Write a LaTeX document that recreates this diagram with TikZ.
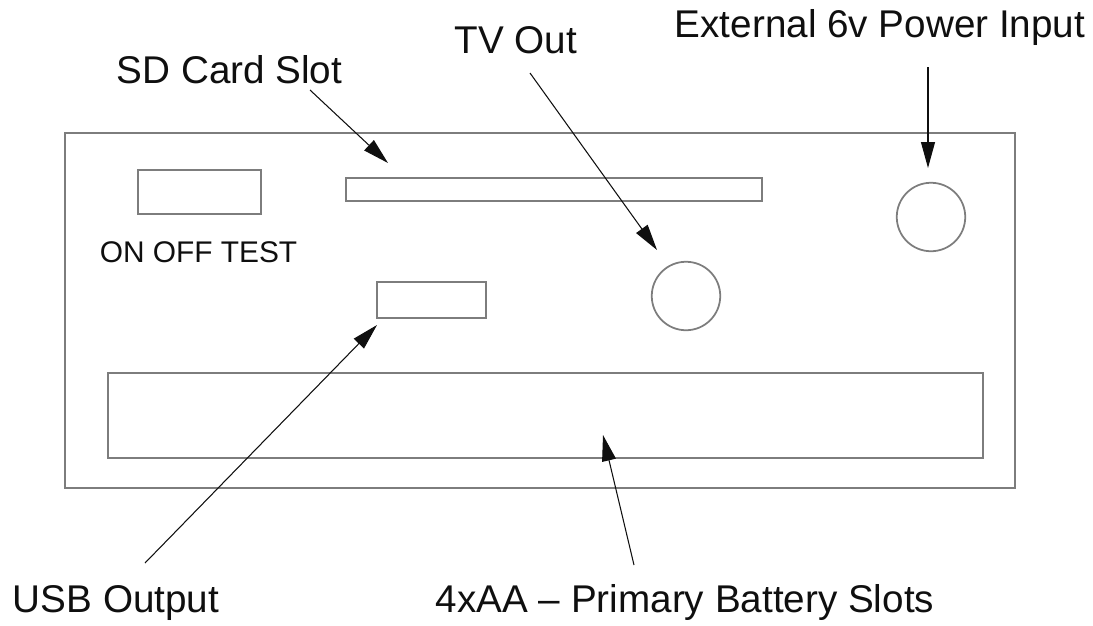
\documentclass[tikz,border=0pt]{standalone}
\usepackage{fontspec}
\setmainfont{Liberation Sans}
\usetikzlibrary{arrows.meta, positioning}
\definecolor{panelGrey}{RGB}{125,125,125}
\definecolor{panelInk}{RGB}{15,15,15}

\begin{document}
\begin{tikzpicture}[x=0.02cm, y=-0.02cm,
    part/.style={draw=panelGrey, line width=1pt, inner sep=0pt},
    callout/.style={font=\fontsize{22}{26}\selectfont, text=panelInk, inner sep=0pt, anchor=base},
    pointer/.style={-{Triangle[length=0.52cm, width=0.28cm]}, line width=0.6pt, draw=panelInk}
  ]
  \useasboundingbox (0,0) rectangle (1093,626);

  % front panel
  \node[part, minimum width=19cm, minimum height=7.1cm] (panel) at (540,310.5) {};
  \node[part, minimum width=2.46cm, minimum height=0.88cm] (switch) at (199.5,192) {};
  \node[callout, font=\fontsize{17}{20}\selectfont] (switchlbl) at (198.5,262) {ON OFF TEST};
  \node[part, minimum width=8.32cm, minimum height=0.46cm] (sdslot) at (554,189.5) {};
  \node[part, minimum width=2.18cm, minimum height=0.72cm] (usb) at (431.5,300) {};
  \node[part, circle, minimum size=1.37cm] (tvout) at (686,296) {};
  \node[part, circle, minimum size=1.37cm] (power) at (931,217) {};
  \node[part, minimum width=17.5cm, minimum height=1.7cm] (battery) at (545.5,415.5) {};

  % labels
  \node[callout] (sdlbl) at (229.5,83) {SD Card Slot};
  \node[callout] (tvlbl) at (516,53) {TV Out};
  \node[callout] (powerlbl) at (880,37) {External 6v Power Input};
  \node[callout] (usblbl) at (116,612) {USB Output};
  \node[callout] (batterylbl) at (685,612) {4xAA -- Primary Battery Slots};

  % pointer ends
  \coordinate (sdtail) at (310,90);
  \coordinate (sdtip) at (388,163);
  \coordinate (tvtail) at (530,73);
  \coordinate (tvtip) at (657,250);
  \coordinate (powertail) at (928,67);
  \coordinate (powertip) at (928,168);
  \coordinate (usbtail) at (145,563);
  \coordinate (usbtip) at (377,325);
  \coordinate (batterytail) at (634,565);
  \coordinate (batterytip) at (603,435);

  \draw[pointer] (sdtail) -- (sdtip);
  \draw[pointer] (tvtail) -- (tvtip);
  \draw[pointer] (powertail) -- (powertip);
  \draw[pointer] (usbtail) -- (usbtip);
  \draw[pointer] (batterytail) -- (batterytip);
\end{tikzpicture}
\end{document}
